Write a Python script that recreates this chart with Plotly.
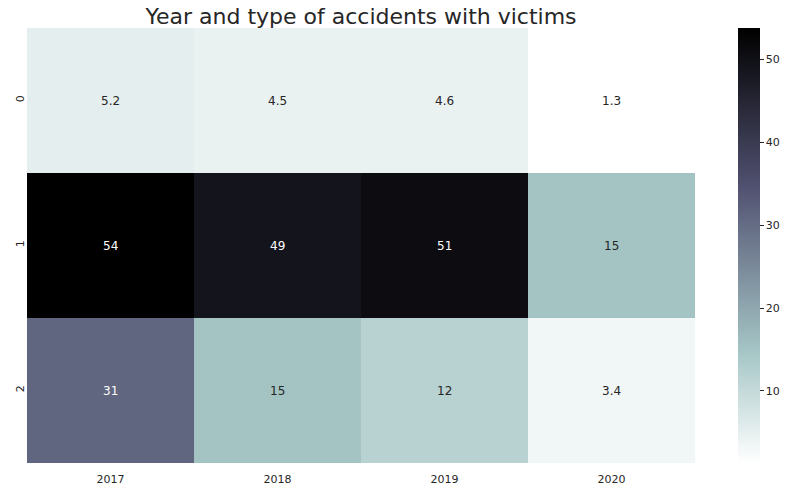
import plotly.graph_objects as go

years = ["2017", "2018", "2019", "2020"]
rows = ["0", "1", "2"]
values = [
    [5.2, 4.5, 4.6, 1.3],
    [53.8, 49.0, 51.0, 15.0],
    [31.0, 15.0, 12.0, 3.4],
]
cbar_ticks = [10, 20, 30, 40, 50]
title = "Year and type of accidents with victims"

# matplotlib bone_r as piecewise-linear scale
colorscale = [
    [0.0, "rgb(255,255,255)"],
    [0.253968, "rgb(166,198,198)"],
    [0.634921, "rgb(81,81,113)"],
    [1.0, "rgb(0,0,0)"],
]

vmin = min(min(r) for r in values)
vmax = max(max(r) for r in values)


def interp_color(v):
    t = (v - vmin) / (vmax - vmin)
    for (t0, c0), (t1, c1) in zip(colorscale[:-1], colorscale[1:]):
        if t0 <= t <= t1:
            a = [float(x) for x in c0[4:-1].split(",")]
            b = [float(x) for x in c1[4:-1].split(",")]
            f = (t - t0) / (t1 - t0) if t1 > t0 else 0
            return [a[i] + f * (b[i] - a[i]) for i in range(3)]
    return [0, 0, 0]


def lum(rgb):
    out = []
    for c in rgb:
        c = c / 255
        out.append(c / 12.92 if c <= 0.03928 else ((c + 0.055) / 1.055) ** 2.4)
    return 0.2126 * out[0] + 0.7152 * out[1] + 0.0722 * out[2]


fig = go.Figure(
    go.Heatmap(
        z=values,
        x=years,
        y=rows,
        colorscale=colorscale,
        zmin=vmin,
        zmax=vmax,
        showscale=True,
        colorbar=dict(
            thickness=22,
            len=1,
            lenmode="fraction",
            y=0.5,
            yanchor="middle",
            x=(738 - 27) / 668,
            xanchor="left",
            xpad=0,
            ypad=0,
            outlinewidth=0,
            ticks="outside",
            ticklen=4,
            tickwidth=1,
            tickcolor="#262626",
            tickvals=cbar_ticks,
            tickfont=dict(family="DejaVu Sans", size=11, color="#262626"),
        ),
        hoverinfo="skip",
    )
)

# annotations placed by category index (serial position on the category axes)
for i, r in enumerate(rows):
    for j, yr in enumerate(years):
        v = values[i][j]
        col = "#262626" if lum(interp_color(v)) > 0.408 else "white"
        fig.add_annotation(
            x=j, y=i, text=format(v, ".2g"), showarrow=False,
            font=dict(family="DejaVu Sans", size=12, color=col),
        )

fig.update_layout(
    width=790,
    height=490,
    margin=dict(l=27, r=95, t=28, b=27, autoexpand=False),
    paper_bgcolor="white",
    plot_bgcolor="white",
    title=dict(
        text=title,
        x=(27 + 695) / 2 / 790,
        xanchor="center",
        y=1 - 16 / 490,
        yanchor="middle",
        font=dict(family="DejaVu Sans", size=22, color="#262626"),
    ),
    xaxis=dict(
        type="category",
        categoryorder="array",
        categoryarray=years,
        showgrid=False, zeroline=False, ticks="", ticklen=0,
        automargin=False,
        ticklabelstandoff=8,
        tickfont=dict(family="DejaVu Sans", size=11, color="#262626"),
    ),
    yaxis=dict(
        type="category",
        categoryorder="array",
        categoryarray=rows,
        autorange="reversed", showgrid=False, zeroline=False, ticks="",
        automargin=False,
        tickangle=-90,
        tickfont=dict(family="DejaVu Sans", size=11, color="#262626"),
    ),
)

fig.write_html(
    "out.html",
    config={"displayModeBar": False},
    post_script="document.body.style.margin='0';document.body.style.padding='0';",
)
